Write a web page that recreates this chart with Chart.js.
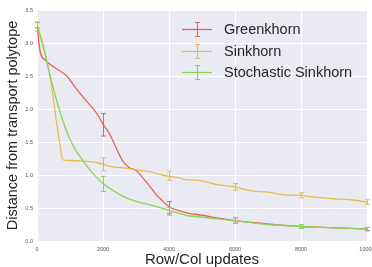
<!DOCTYPE html>
<html><head><meta charset="utf-8">
<script src="https://cdn.jsdelivr.net/npm/chart.js@4"></script>
<style>html,body{margin:0;padding:0;background:#fff}#w{width:372px;height:267px}</style>
</head><body><div id="w"><canvas id="c" width="372" height="267"></canvas></div>
<script>
const seriesNames = ["Greenkhorn", "Sinkhorn", "Stochastic Sinkhorn"];
const seriesColors = ["#e6625c", "#e4bf4f", "#8bd556"];

const greenX = [0,100,250,500,900,1200,1500,1800,2000,2200,2400,2600,2800,3000,3200,3400,3600,3800,4000,4300,4600,5000,5500,6000,7000,8000,9000,10000];
const greenY = [3.27,2.86,2.74,2.64,2.50,2.30,2.12,1.94,1.77,1.62,1.41,1.21,1.11,1.07,0.96,0.84,0.71,0.61,0.52,0.46,0.42,0.39,0.345,0.31,0.26,0.22,0.20,0.18];

const sinkX = [0,200,400,640,790,1000,1400,1800,2000,2200,2600,3000,3200,3600,3800,4000,4300,4500,4900,5400,6000,6500,7000,7500,8000,8500,9000,9500,10000];
const sinkY = [3.27,2.95,2.48,1.64,1.23,1.22,1.21,1.19,1.16,1.13,1.11,1.08,1.065,1.03,1.00,0.98,0.96,0.93,0.92,0.86,0.82,0.76,0.74,0.70,0.69,0.66,0.64,0.625,0.59];

const stochX = [0,160,400,670,900,1100,1400,1700,2000,2600,3000,3400,4000,4500,5000,6000,7000,8000,9000,10000];
const stochY = [3.27,3.00,2.50,2.00,1.66,1.44,1.21,1.02,0.87,0.68,0.60,0.55,0.465,0.39,0.36,0.305,0.25,0.22,0.20,0.18];

const errX = [0,2000,4000,6000,8000,10000];
const greenErrMid = [3.27,1.76,0.51,0.31,0.22,0.18];
const greenErr = [0.04,0.17,0.09,0.04,0.03,0.025];
const sinkErrMid = [3.27,1.16,0.99,0.82,0.69,0.59];
const sinkErr = [0.04,0.10,0.07,0.05,0.04,0.035];
const stochErrMid = [3.25,0.865,0.45,0.31,0.22,0.18];
const stochErr = [0.07,0.115,0.06,0.045,0.03,0.025];

const xTicks = [0,2000,4000,6000,8000,10000];
const yTicks = [0,0.5,1.0,1.5,2.0,2.5,3.0,3.5];

const lineXs = [greenX, sinkX, stochX];
const lineYs = [greenY, sinkY, stochY];
const errMids = [greenErrMid, sinkErrMid, stochErrMid];
const errs = [greenErr, sinkErr, stochErr];

const FONT = "'Liberation Sans', Arial, sans-serif";
const TXT = "#262626";

const datasets = seriesNames.map((n, i) => ({
  label: n,
  data: lineXs[i].map((x, k) => ({x: x, y: lineYs[i][k]})),
  borderColor: seriesColors[i],
  backgroundColor: seriesColors[i],
  borderWidth: 1.3,
  pointRadius: 0,
  cubicInterpolationMode: 'monotone',
  order: 2 - i,
  errMid: errMids[i],
  err: errs[i]
}));

const bgPlugin = {
  id: 'bg',
  beforeDraw(chart) {
    const {ctx, chartArea: a} = chart;
    ctx.save();
    ctx.fillStyle = '#eaeaf2';
    ctx.fillRect(a.left, a.top, a.right - a.left, a.bottom - a.top);
    ctx.restore();
  }
};

const errPlugin = {
  id: 'err',
  afterDatasetsDraw(chart) {
    const {ctx, scales: {x, y}} = chart;
    ctx.save();
    chart.data.datasets.forEach(ds => {
      ctx.strokeStyle = ds.borderColor;
      ctx.lineWidth = 1;
      errX.forEach((xv, k) => {
        const px = Math.round(x.getPixelForValue(xv)) + 0.5;
        const t = y.getPixelForValue(ds.errMid[k] + ds.err[k]);
        const b = y.getPixelForValue(ds.errMid[k] - ds.err[k]);
        ctx.beginPath();
        ctx.moveTo(px, t); ctx.lineTo(px, b);
        ctx.moveTo(px - 2.5, t); ctx.lineTo(px + 2.5, t);
        ctx.moveTo(px - 2.5, b); ctx.lineTo(px + 2.5, b);
        ctx.stroke();
      });
    });
    ctx.restore();
  }
};

const legendPlugin = {
  id: 'lg',
  afterDraw(chart) {
    const {ctx} = chart;
    ctx.save();
    chart.data.datasets.forEach((ds, i) => {
      const yy = Math.round(29 + 21.5 * i) + 0.5;
      ctx.strokeStyle = ds.borderColor;
      ctx.lineWidth = 1.3;
      ctx.beginPath();
      ctx.moveTo(182, yy); ctx.lineTo(212, yy);
      ctx.stroke();
      ctx.lineWidth = 1;
      ctx.beginPath();
      ctx.moveTo(197.5, yy - 7); ctx.lineTo(197.5, yy + 7);
      ctx.moveTo(195, yy - 7); ctx.lineTo(200, yy - 7);
      ctx.moveTo(195, yy + 7); ctx.lineTo(200, yy + 7);
      ctx.stroke();
      ctx.fillStyle = TXT;
      ctx.font = "14.5px " + FONT;
      ctx.textBaseline = 'middle';
      ctx.textAlign = 'left';
      ctx.fillText(ds.label, 224, yy);
    });
    ctx.restore();
  }
};

new Chart(document.getElementById('c'), {
  type: 'line',
  data: {datasets},
  options: {
    responsive: false,
    animation: false,
    devicePixelRatio: 1,
    layout: {padding: {top: 10, right: 5, left: 0, bottom: 0}},
    plugins: {legend: {display: false}, tooltip: {enabled: false}},
    scales: {
      x: {
        type: 'linear', min: 0, max: 10000,
        afterBuildTicks(s) { s.ticks = xTicks.map(v => ({value: v})); },
        afterFit(s) { s.height = 26; s.paddingLeft = 0; s.paddingRight = 0; },
        border: {display: false},
        grid: {color: '#ffffff', lineWidth: 1, drawTicks: false},
        ticks: {color: '#555', font: {size: 5.5, family: FONT}, padding: 5, maxRotation: 0, autoSkip: false,
                callback: v => String(v)},
        title: {display: true, text: 'Row/Col updates', color: TXT, font: {size: 15, family: FONT, lineHeight: 1}, padding: {top: 0, bottom: 0}}
      },
      y: {
        type: 'linear', min: 0, max: 3.5,
        afterBuildTicks(s) { s.ticks = yTicks.map(v => ({value: v})); },
        afterFit(s) { s.width = 37; s.paddingTop = 0; s.paddingBottom = 0; },
        border: {display: false},
        grid: {color: '#ffffff', lineWidth: 1, drawTicks: false},
        ticks: {color: '#555', font: {size: 5.5, family: FONT}, padding: 4, autoSkip: false,
                callback: v => v.toFixed(1)},
        title: {display: true, text: 'Distance from transport polytope', color: TXT, font: {size: 14.5, family: FONT, lineHeight: 1}, padding: {top: 6, bottom: 0}}
      }
    }
  },
  plugins: [bgPlugin, errPlugin, legendPlugin]
});
</script></body></html>
